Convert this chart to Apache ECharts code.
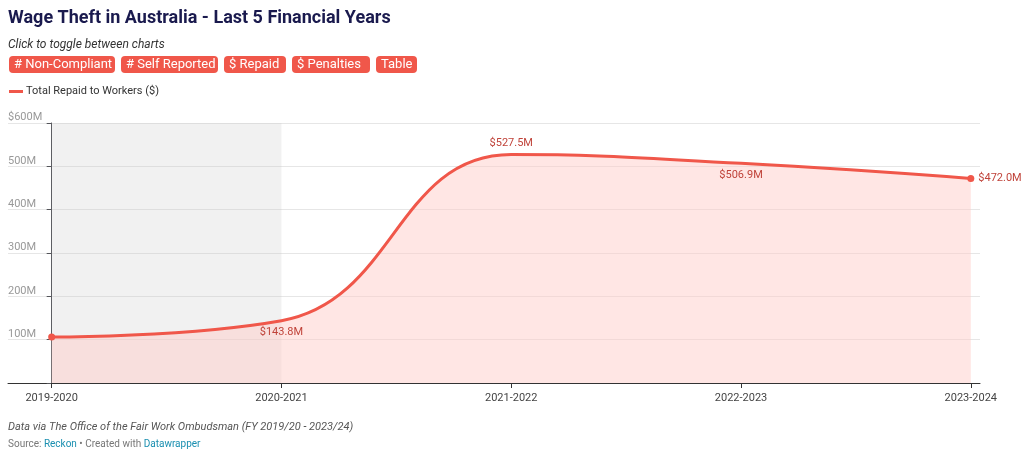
<!DOCTYPE html>
<html><head><meta charset="utf-8">
<script src="https://cdn.jsdelivr.net/npm/echarts@6/dist/echarts.min.js"></script>
<style>body{margin:0;background:#fff}#c{width:1024px;height:454px}</style>
</head><body><div id="c"></div>
<script>
const categories = ['2019-2020','2020-2021','2021-2022','2022-2023','2023-2024'];
const repaid = [106, 143.8, 527.5, 506.9, 472.0];
const yTicks = [100, 200, 300, 400, 500, 600];
const buttons = ['# Non-Compliant', '# Self Reported', '$ Repaid', '$ Penalties', 'Table'];
const labelPos = [null, 'bottom', 'top', 'bottom', 'right'];

const chart = echarts.init(document.getElementById('c'));
const F = 'Roboto, sans-serif';
const btnW = [106, 97, 62, 78, 41];
let bx = 9; const graphics = [];
buttons.forEach((b, i) => {
  graphics.push({type:'rect', left:bx, top:56, shape:{width:btnW[i], height:17, r:4}, style:{fill:'#f0574a'}});
  graphics.push({type:'text', left:bx+5, top:58, style:{text:b, fill:'#fff', font:'13px '+F}});
  bx += btnW[i] + 6;
});
graphics.push({type:'text', left:8, top:9, style:{text:'Wage Theft in Australia - Last 5 Financial Years', fill:'#1a1a4e', font:'bold 18px '+F}});
graphics.push({type:'text', left:8, top:39, style:{text:'Click to toggle between charts', fill:'#333', font:'italic 12px '+F}});
graphics.push({type:'rect', left:9, top:90, shape:{width:14, height:3}, style:{fill:'#f0574a'}});
graphics.push({type:'text', left:26, top:86, style:{text:'Total Repaid to Workers ($)', fill:'#333', font:'11px '+F}});
graphics.push({type:'text', left:8, top:422, style:{text:'Data via The Office of the Fair Work Ombudsman (FY 2019/20 - 2023/24)', fill:'#555', font:'italic 11px '+F}});
graphics.push({type:'text', left:8, top:439, style:{rich:{a:{fill:'#777',font:'10px '+F},b:{fill:'#1a8fb0',font:'10px '+F}}, text:'{a|Source: }{b|Reckon}{a| • Created with }{b|Datawrapper}'}});

chart.setOption({
  animation:false,
  graphic: graphics,
  grid:{left:8, right:44, top:123, bottom:71},
  xAxis:{type:'value', min:-0.19, max:4.04,
    axisLine:{show:true, onZero:false, lineStyle:{color:'#333'}},
    axisTick:{show:true, customValues:[0,1,2,3,4], length:5, lineStyle:{color:'#333'}},
    axisLabel:{customValues:[0,1,2,3,4], formatter:v=>categories[Math.round(v)], color:'#444', fontSize:11, fontFamily:F, margin:10},
    splitLine:{show:false}},
  yAxis:{type:'value', min:0, max:600, interval:100,
    axisLabel:{inside:true, verticalAlign:'bottom', margin:0, color:'#999', fontSize:11, fontFamily:F,
      formatter:v=> v===0 ? '' : (v===600 ? '$'+v+'M' : v+'M')},
    splitLine:{lineStyle:{color:'#e6e6e6'}}},
  series:[{
    type:'line', smooth:0.45, data: repaid.map((v,i)=>[i,v]),
    lineStyle:{color:'#f0574a', width:3},
    itemStyle:{color:'#f0574a'},
    symbol:'circle', symbolSize:(v,p)=> (p.dataIndex===0||p.dataIndex===4)?7:0,
    areaStyle:{color:'rgba(255,205,200,0.7)'},
    label:{show:true, color:'#c0433a', fontSize:11, fontFamily:F,
      formatter:p=> p.dataIndex===0 ? '' : '$'+p.value[1].toFixed(1)+'M',
      position:'top'},
    labelLayout:null,
    data: repaid.map((v,i)=>({value:[i,v], label:{position: labelPos[i]||'top', distance: labelPos[i]==='right'?4:6}})),
    markArea:{silent:true, itemStyle:{color:'rgba(200,200,200,0.25)'}, data:[[{xAxis:0, yAxis:0},{xAxis:1, yAxis:600}]]}
  }]
});
</script></body></html>
